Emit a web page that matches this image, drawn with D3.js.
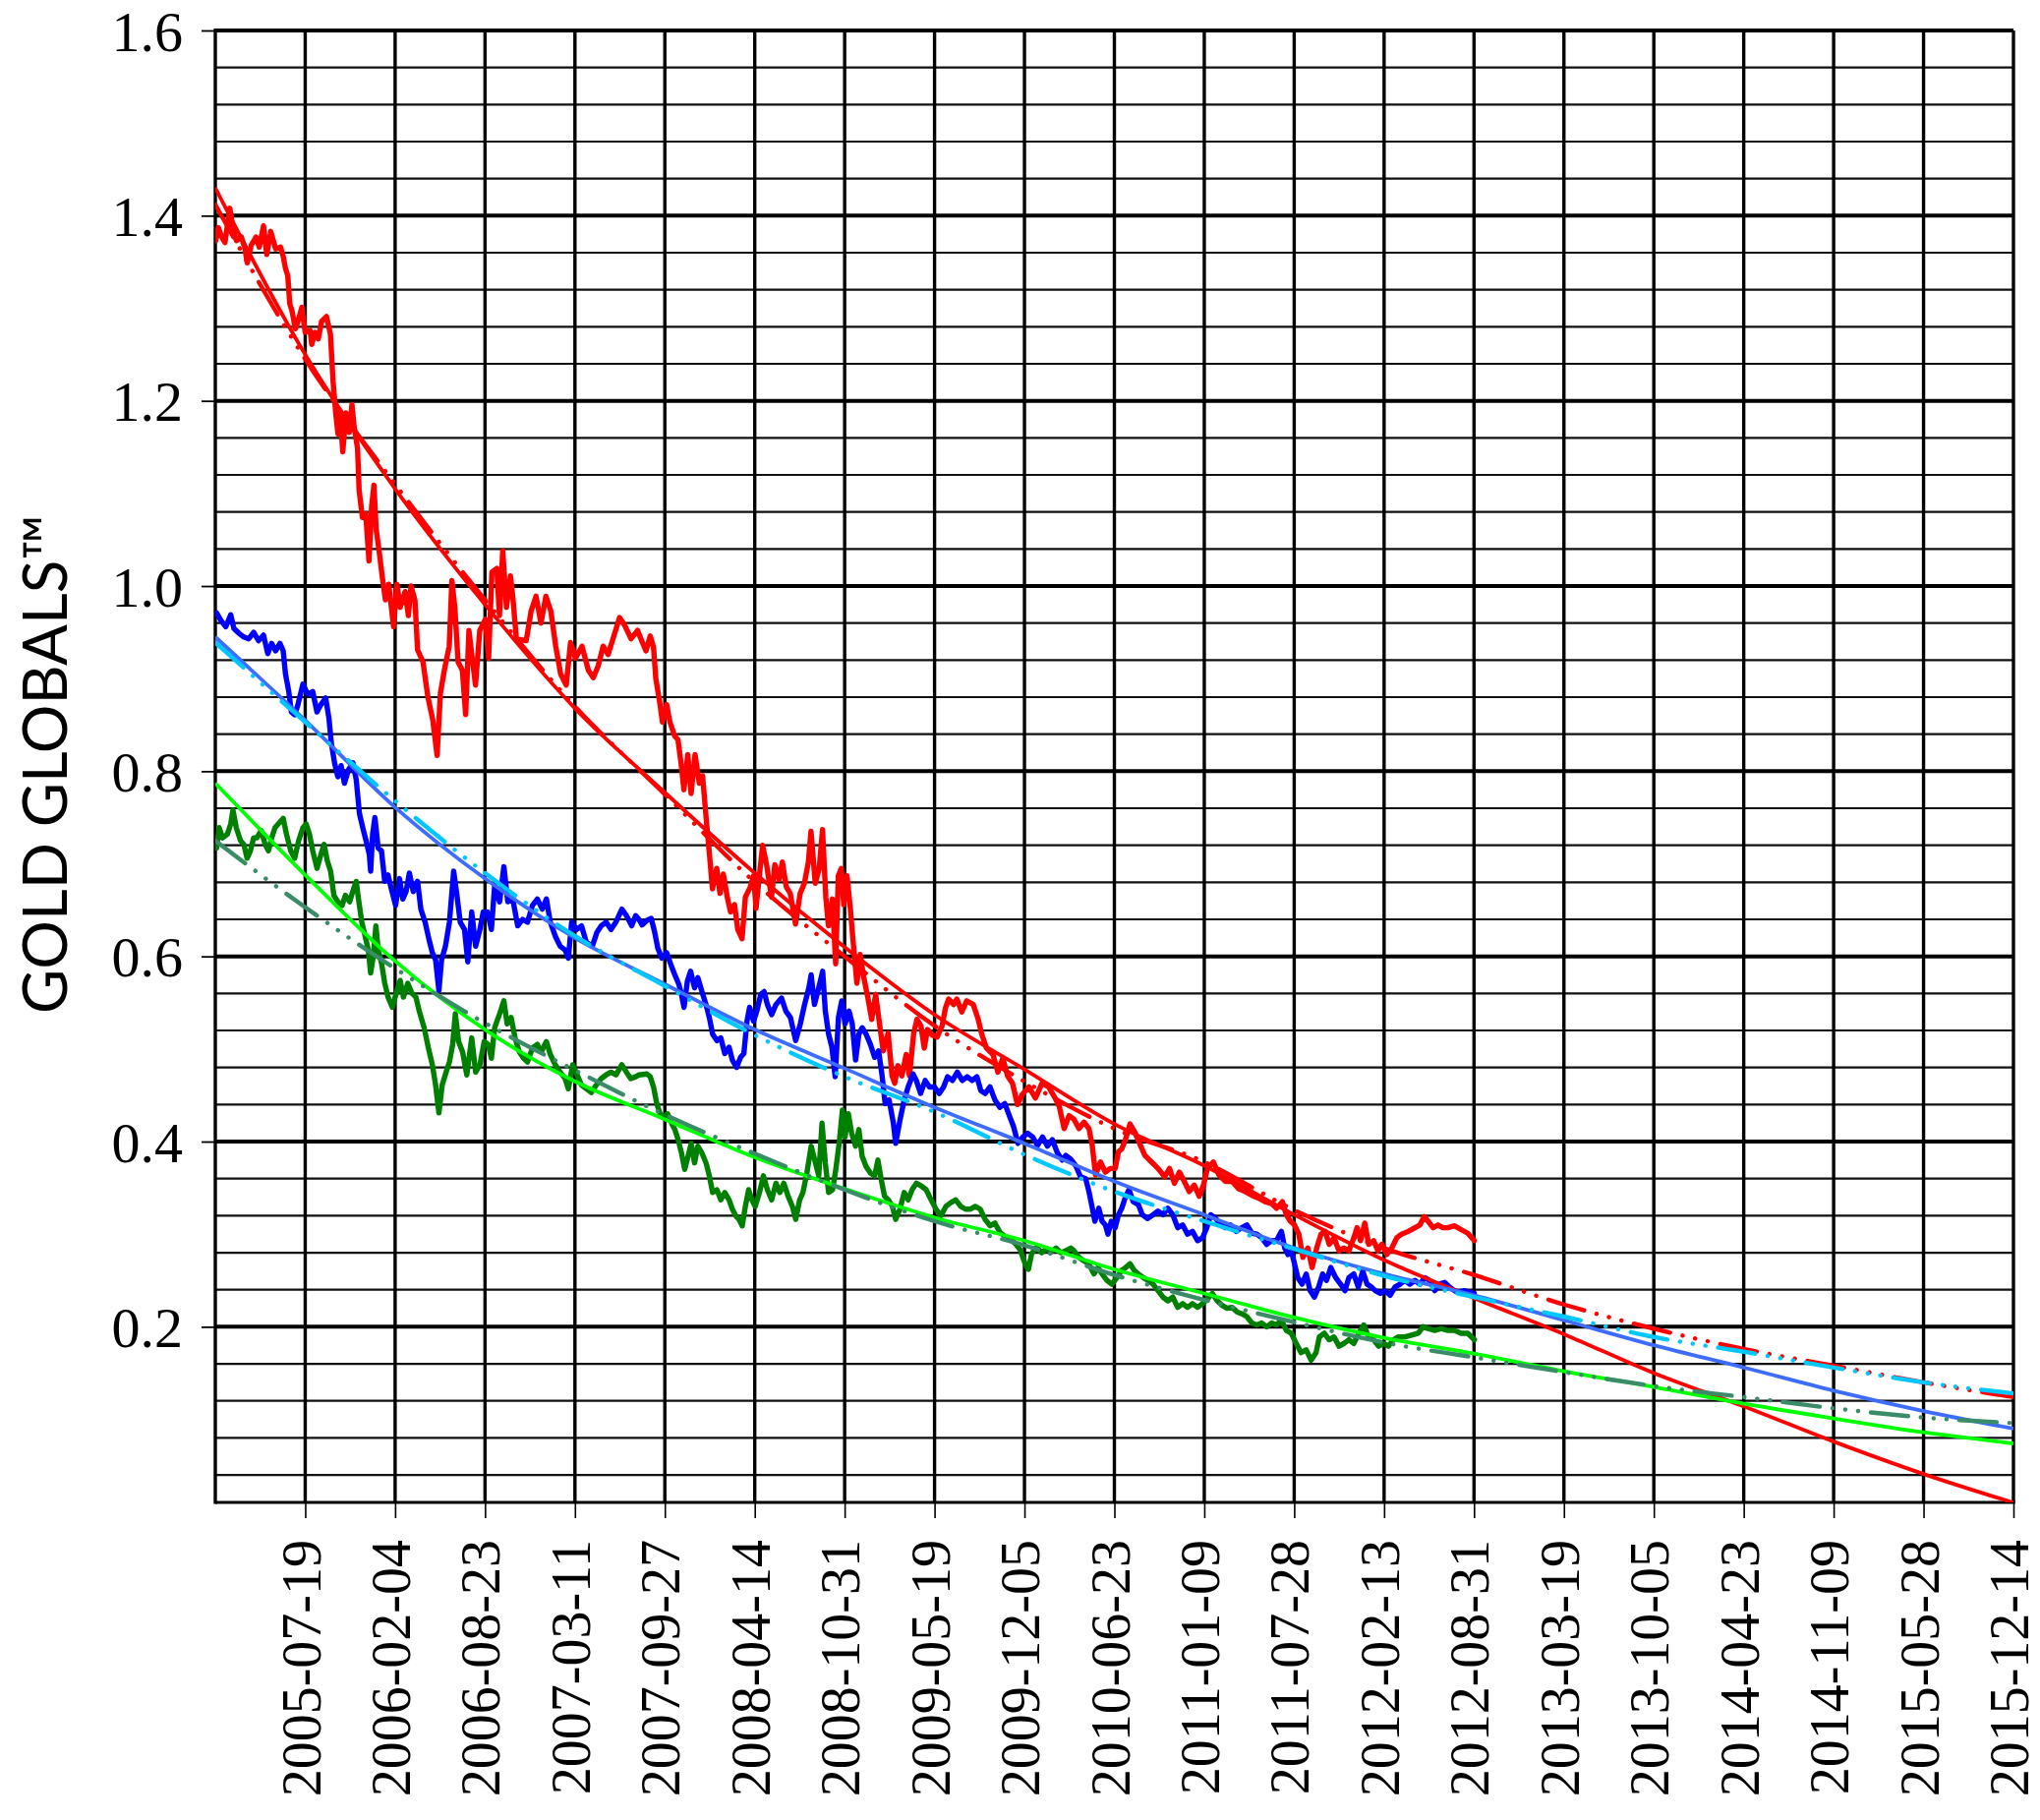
<!DOCTYPE html>
<html>
<head>
<meta charset="utf-8">
<script src="https://cdn.jsdelivr.net/npm/d3@7"></script>
<style>
  html, body { margin: 0; padding: 0; background: #fff; }
  svg { display: block; }
</style>
</head>
<body>
<div id="chart"></div>
<script>
// ratio chart, three noisy series plus two fitted trends each

// x tick labels (every 200 days)
var xTickLabels = ["2005-07-19","2006-02-04","2006-08-23","2007-03-11","2007-09-27","2008-04-14",
  "2008-10-31","2009-05-19","2009-12-05","2010-06-23","2011-01-09","2011-07-28","2012-02-13",
  "2012-08-31","2013-03-19","2013-10-05","2014-04-23","2014-11-09","2015-05-28","2015-12-14"];
var xStart = "2004-12-31";
var yTickValues = [0.2, 0.4, 0.6, 0.8, 1.0, 1.2, 1.4, 1.6];
var yMin = 0.0103, yMax = 1.6;

// fitted curves, read at the start and at each x tick
var fitDates = ["2004-12-31","2005-07-19","2006-02-04","2006-08-23","2007-03-11","2007-09-27","2008-04-14",
  "2008-10-31","2009-05-19","2009-12-05","2010-06-23","2011-01-09","2011-07-28","2012-02-13",
  "2012-08-31","2013-03-19","2013-10-05","2014-04-23","2014-11-09","2015-05-28","2015-12-14"];
var redFit    = [1.430,1.250,1.105,0.980,0.868,0.777,0.690,0.610,0.537,0.478,0.419,0.374,0.321,0.272,0.231,0.192,0.150,0.114,0.076,0.041,0.010];
var redTrend  = [1.412,1.245,1.110,0.985,0.870,0.775,0.680,0.600,0.525,0.465,0.414,0.378,0.326,0.285,0.256,0.224,0.198,0.176,0.158,0.140,0.124];
var blueFit   = [0.945,0.855,0.761,0.684,0.620,0.570,0.521,0.479,0.437,0.398,0.357,0.321,0.285,0.257,0.234,0.207,0.180,0.156,0.131,0.109,0.090];
var blueTrend = [0.939,0.853,0.768,0.690,0.622,0.568,0.515,0.470,0.432,0.386,0.346,0.314,0.284,0.255,0.232,0.211,0.189,0.173,0.156,0.140,0.128];
var greenFit  = [0.787,0.688,0.595,0.521,0.465,0.424,0.383,0.349,0.318,0.293,0.262,0.236,0.210,0.188,0.171,0.152,0.135,0.117,0.101,0.086,0.074];
var greenTrend= [0.725,0.653,0.587,0.528,0.477,0.429,0.387,0.348,0.314,0.288,0.256,0.229,0.205,0.183,0.167,0.151,0.136,0.124,0.112,0.102,0.096];

// noisy series: [decimal year, value]
var redSeries = [[2005.000,1.373],[2005.016,1.387],[2005.036,1.377],[2005.056,1.371],[2005.086,1.408],[2005.106,1.385],[2005.126,1.373],[2005.156,1.377],[2005.176,1.366],[2005.192,1.349],[2005.216,1.368],[2005.246,1.377],[2005.265,1.366],[2005.291,1.389],[2005.311,1.358],[2005.335,1.383],[2005.365,1.364],[2005.395,1.366],[2005.411,1.356],[2005.425,1.343],[2005.439,1.335],[2005.451,1.305],[2005.465,1.297],[2005.485,1.278],[2005.505,1.288],[2005.525,1.301],[2005.545,1.274],[2005.575,1.276],[2005.585,1.261],[2005.605,1.274],[2005.625,1.267],[2005.645,1.286],[2005.675,1.291],[2005.699,1.272],[2005.715,1.221],[2005.731,1.187],[2005.745,1.164],[2005.758,1.187],[2005.774,1.145],[2005.794,1.187],[2005.814,1.166],[2005.830,1.196],[2005.844,1.171],[2005.864,1.149],[2005.874,1.103],[2005.894,1.074],[2005.914,1.078],[2005.934,1.027],[2005.950,1.086],[2005.964,1.109],[2005.978,1.061],[2005.994,1.040],[2006.014,1.011],[2006.034,0.985],[2006.054,1.002],[2006.084,0.956],[2006.104,1.002],[2006.124,0.977],[2006.154,0.994],[2006.174,0.968],[2006.190,1.000],[2006.214,0.985],[2006.230,0.931],[2006.263,0.918],[2006.293,0.880],[2006.323,0.855],[2006.349,0.817],[2006.369,0.884],[2006.393,0.909],[2006.423,0.935],[2006.439,1.006],[2006.457,0.977],[2006.477,0.918],[2006.503,0.909],[2006.523,0.861],[2006.543,0.952],[2006.563,0.922],[2006.583,0.893],[2006.609,0.952],[2006.643,0.964],[2006.663,0.922],[2006.683,1.015],[2006.713,1.019],[2006.729,0.968],[2006.749,1.038],[2006.772,0.977],[2006.796,1.011],[2006.812,0.985],[2006.832,0.943],[2006.892,0.941],[2006.922,0.973],[2006.952,0.989],[2006.982,0.960],[2007.012,0.989],[2007.042,0.973],[2007.072,0.935],[2007.102,0.905],[2007.136,0.893],[2007.162,0.939],[2007.192,0.922],[2007.232,0.935],[2007.271,0.909],[2007.301,0.901],[2007.331,0.914],[2007.361,0.935],[2007.391,0.926],[2007.421,0.943],[2007.461,0.966],[2007.491,0.958],[2007.531,0.943],[2007.571,0.952],
  [2007.598,0.940],[2007.622,0.930],[2007.648,0.946],[2007.668,0.934],[2007.682,0.900],[2007.708,0.872],[2007.722,0.853],[2007.748,0.872],[2007.768,0.853],[2007.797,0.838],[2007.817,0.834],[2007.837,0.807],[2007.853,0.780],[2007.877,0.818],[2007.897,0.776],[2007.921,0.818],[2007.947,0.787],[2007.967,0.795],[2007.987,0.753],[2008.007,0.714],[2008.027,0.673],[2008.053,0.695],[2008.073,0.668],[2008.093,0.689],[2008.117,0.664],[2008.137,0.648],[2008.161,0.656],[2008.181,0.629],[2008.207,0.619],[2008.227,0.664],[2008.257,0.675],[2008.277,0.687],[2008.292,0.652],[2008.312,0.687],[2008.332,0.720],[2008.356,0.699],[2008.386,0.664],[2008.406,0.699],[2008.432,0.683],[2008.452,0.702],[2008.476,0.675],[2008.500,0.668],[2008.532,0.635],[2008.560,0.668],[2008.586,0.679],[2008.610,0.702],[2008.626,0.735],[2008.652,0.679],[2008.676,0.695],[2008.696,0.737],[2008.716,0.664],[2008.732,0.633],[2008.756,0.662],[2008.776,0.592],[2008.792,0.687],[2008.810,0.695],[2008.825,0.656],[2008.845,0.687],[2008.865,0.652],[2008.885,0.610],[2008.905,0.571],[2008.925,0.602],[2008.945,0.579],[2008.971,0.556],[2008.995,0.532],[2009.019,0.559],[2009.039,0.532],[2009.065,0.498],[2009.095,0.517],[2009.119,0.471],[2009.135,0.463],[2009.155,0.482],[2009.179,0.471],[2009.205,0.494],[2009.225,0.471],[2009.251,0.517],[2009.271,0.532],[2009.295,0.525],[2009.315,0.501],[2009.335,0.521],[2009.364,0.515],[2009.394,0.513],[2009.424,0.525],[2009.444,0.544],[2009.464,0.554],[2009.494,0.548],[2009.514,0.554],[2009.544,0.540],[2009.574,0.552],[2009.614,0.548],[2009.644,0.532],[2009.664,0.517],[2009.694,0.501],[2009.734,0.494],[2009.764,0.475],[2009.794,0.490],[2009.823,0.471],[2009.853,0.463],[2009.883,0.440],[2009.913,0.451],[2009.953,0.459],[2009.993,0.447],[2010.033,0.463],[2010.073,0.459],[2010.113,0.447],
  [2010.138,0.438],[2010.168,0.414],[2010.198,0.428],[2010.228,0.424],[2010.258,0.414],[2010.289,0.421],[2010.319,0.414],[2010.339,0.396],[2010.359,0.364],[2010.389,0.378],[2010.419,0.367],[2010.449,0.371],[2010.479,0.371],[2010.499,0.389],[2010.519,0.392],[2010.543,0.403],[2010.569,0.419],[2010.599,0.410],[2010.630,0.397],[2010.660,0.385],[2010.700,0.378],[2010.740,0.371],[2010.780,0.362],[2010.810,0.371],[2010.840,0.355],[2010.870,0.367],[2010.900,0.357],[2010.930,0.346],[2010.961,0.353],[2010.991,0.341],[2011.017,0.353],[2011.041,0.371],[2011.077,0.378],[2011.111,0.364],[2011.151,0.357],[2011.191,0.357],[2011.231,0.349],[2011.271,0.346],[2011.312,0.342],[2011.352,0.339],[2011.392,0.335],[2011.432,0.333],[2011.462,0.328],[2011.498,0.335],[2011.522,0.321],[2011.546,0.314],[2011.572,0.310],[2011.598,0.300],[2011.623,0.275],[2011.653,0.285],[2011.679,0.264],[2011.707,0.285],[2011.733,0.300],[2011.759,0.303],[2011.783,0.289],[2011.813,0.296],[2011.843,0.282],[2011.873,0.285],[2011.903,0.282],[2011.933,0.296],[2011.953,0.307],[2011.974,0.293],[2012.000,0.312],[2012.024,0.289],[2012.054,0.293],[2012.080,0.282],[2012.104,0.289],[2012.134,0.278],[2012.164,0.285],[2012.194,0.296],[2012.224,0.300],[2012.264,0.303],[2012.305,0.307],[2012.335,0.310],[2012.361,0.319],[2012.385,0.314],[2012.415,0.307],[2012.445,0.310],[2012.475,0.307],[2012.505,0.307],[2012.545,0.309],[2012.585,0.305],[2012.626,0.301],[2012.666,0.293]];

var blueSeries = [[2005.005,0.971],[2005.031,0.963],[2005.061,0.956],[2005.091,0.969],[2005.111,0.954],[2005.141,0.949],[2005.171,0.945],[2005.201,0.943],[2005.231,0.950],[2005.261,0.941],[2005.291,0.947],[2005.317,0.927],[2005.341,0.938],[2005.365,0.930],[2005.391,0.938],[2005.411,0.930],[2005.425,0.905],[2005.445,0.886],[2005.461,0.864],[2005.481,0.861],[2005.501,0.872],[2005.531,0.894],[2005.561,0.883],[2005.591,0.886],[2005.617,0.864],[2005.641,0.872],[2005.670,0.879],[2005.690,0.857],[2005.704,0.831],[2005.724,0.809],[2005.744,0.794],[2005.764,0.806],[2005.784,0.787],[2005.810,0.802],[2005.836,0.809],[2005.856,0.791],[2005.876,0.754],[2005.896,0.739],[2005.916,0.725],[2005.936,0.710],[2005.944,0.692],[2005.956,0.732],[2005.970,0.750],[2005.990,0.717],[2006.010,0.714],[2006.030,0.681],[2006.050,0.688],[2006.070,0.673],[2006.096,0.655],[2006.120,0.684],[2006.140,0.662],[2006.160,0.670],[2006.180,0.690],[2006.204,0.670],[2006.230,0.681],[2006.250,0.651],[2006.276,0.637],[2006.300,0.618],[2006.320,0.604],[2006.340,0.596],[2006.360,0.563],[2006.376,0.596],[2006.400,0.611],[2006.424,0.637],[2006.450,0.692],[2006.470,0.666],[2006.490,0.637],[2006.516,0.629],[2006.536,0.594],[2006.560,0.648],[2006.584,0.611],[2006.610,0.629],[2006.630,0.648],[2006.656,0.648],[2006.680,0.629],[2006.700,0.677],[2006.730,0.659],[2006.756,0.697],[2006.780,0.659],[2006.810,0.662],[2006.840,0.633],[2006.870,0.640],[2006.900,0.637],[2006.930,0.655],[2006.960,0.662],[2006.990,0.651],[2007.015,0.662],[2007.039,0.637],[2007.069,0.622],[2007.099,0.611],[2007.129,0.607],[2007.149,0.598],[2007.169,0.637],[2007.199,0.629],[2007.229,0.633],[2007.259,0.615],[2007.295,0.611],[2007.323,0.626],[2007.349,0.633],[2007.379,0.637],[2007.409,0.629],[2007.439,0.637],[2007.475,0.651],[2007.503,0.644],[2007.535,0.633],[2007.559,0.644],[2007.579,0.640],
  [2007.598,0.634],[2007.628,0.639],[2007.654,0.641],[2007.674,0.627],[2007.694,0.609],[2007.718,0.598],[2007.748,0.604],[2007.774,0.591],[2007.798,0.580],[2007.822,0.570],[2007.838,0.559],[2007.854,0.545],[2007.874,0.573],[2007.894,0.584],[2007.918,0.566],[2007.938,0.577],[2007.968,0.559],[2007.988,0.548],[2008.008,0.534],[2008.028,0.516],[2008.054,0.509],[2008.078,0.512],[2008.102,0.495],[2008.128,0.502],[2008.148,0.488],[2008.174,0.480],[2008.198,0.491],[2008.218,0.495],[2008.237,0.530],[2008.253,0.545],[2008.277,0.530],[2008.297,0.541],[2008.321,0.559],[2008.341,0.562],[2008.361,0.548],[2008.387,0.537],[2008.413,0.548],[2008.447,0.555],[2008.473,0.541],[2008.501,0.534],[2008.533,0.509],[2008.561,0.527],[2008.587,0.548],[2008.613,0.566],[2008.627,0.580],[2008.647,0.548],[2008.673,0.566],[2008.697,0.584],[2008.713,0.541],[2008.733,0.516],[2008.753,0.502],[2008.773,0.470],[2008.793,0.534],[2008.813,0.552],[2008.833,0.527],[2008.857,0.541],[2008.877,0.527],[2008.897,0.488],[2008.917,0.516],[2008.937,0.523],[2008.961,0.516],[2008.987,0.505],[2009.013,0.491],[2009.037,0.498],[2009.057,0.473],[2009.077,0.441],[2009.101,0.445],[2009.127,0.420],[2009.141,0.398],[2009.167,0.423],[2009.193,0.445],[2009.217,0.459],[2009.247,0.473],[2009.267,0.466],[2009.293,0.452],[2009.321,0.466],[2009.347,0.459],[2009.377,0.459],[2009.407,0.452],[2009.433,0.459],[2009.457,0.470],[2009.487,0.466],[2009.517,0.475],[2009.547,0.466],[2009.577,0.470],[2009.607,0.466],[2009.636,0.470],[2009.660,0.455],[2009.686,0.452],[2009.716,0.459],[2009.746,0.445],[2009.776,0.437],[2009.806,0.441],[2009.836,0.427],[2009.860,0.416],[2009.886,0.398],[2009.916,0.405],[2009.946,0.409],[2009.976,0.405],[2010.006,0.396],[2010.036,0.405],[2010.066,0.395],[2010.096,0.402],[2010.126,0.388],[2010.156,0.380],
  [2010.178,0.385],[2010.208,0.381],[2010.238,0.374],[2010.268,0.362],[2010.299,0.360],[2010.319,0.346],[2010.335,0.332],[2010.355,0.314],[2010.379,0.328],[2010.399,0.314],[2010.419,0.310],[2010.435,0.300],[2010.455,0.314],[2010.479,0.307],[2010.499,0.321],[2010.519,0.328],[2010.539,0.339],[2010.563,0.348],[2010.589,0.335],[2010.620,0.332],[2010.644,0.321],[2010.676,0.317],[2010.710,0.321],[2010.740,0.325],[2010.770,0.321],[2010.800,0.328],[2010.830,0.321],[2010.860,0.307],[2010.890,0.310],[2010.920,0.300],[2010.950,0.303],[2010.981,0.293],[2011.011,0.296],[2011.037,0.307],[2011.061,0.321],[2011.091,0.317],[2011.121,0.310],[2011.151,0.307],[2011.181,0.310],[2011.217,0.303],[2011.251,0.307],[2011.281,0.310],[2011.312,0.301],[2011.342,0.300],[2011.372,0.296],[2011.402,0.289],[2011.432,0.293],[2011.462,0.293],[2011.492,0.303],[2011.512,0.285],[2011.532,0.278],[2011.552,0.282],[2011.572,0.268],[2011.592,0.253],[2011.618,0.246],[2011.643,0.257],[2011.667,0.239],[2011.693,0.232],[2011.719,0.243],[2011.743,0.257],[2011.767,0.250],[2011.793,0.264],[2011.823,0.253],[2011.853,0.246],[2011.879,0.239],[2011.903,0.253],[2011.933,0.257],[2011.960,0.243],[2011.988,0.260],[2012.014,0.246],[2012.040,0.243],[2012.064,0.239],[2012.094,0.236],[2012.124,0.239],[2012.154,0.234],[2012.184,0.243],[2012.214,0.246],[2012.244,0.250],[2012.274,0.246],[2012.305,0.250],[2012.335,0.246],[2012.365,0.253],[2012.395,0.250],[2012.425,0.239],[2012.455,0.246],[2012.485,0.248],[2012.515,0.243],[2012.545,0.239],[2012.575,0.237],[2012.605,0.239],[2012.636,0.237],[2012.666,0.236]];

var greenSeries = [[2005.005,0.717],[2005.021,0.739],[2005.041,0.728],[2005.071,0.732],[2005.091,0.743],[2005.105,0.758],[2005.125,0.739],[2005.151,0.725],[2005.171,0.721],[2005.191,0.706],[2005.211,0.714],[2005.231,0.728],[2005.251,0.728],[2005.277,0.736],[2005.301,0.721],[2005.321,0.714],[2005.341,0.728],[2005.361,0.739],[2005.381,0.743],[2005.411,0.749],[2005.431,0.732],[2005.457,0.714],[2005.481,0.706],[2005.505,0.725],[2005.531,0.739],[2005.551,0.743],[2005.571,0.732],[2005.591,0.714],[2005.617,0.695],[2005.641,0.710],[2005.660,0.721],[2005.680,0.703],[2005.700,0.692],[2005.720,0.666],[2005.744,0.659],[2005.770,0.655],[2005.790,0.666],[2005.816,0.659],[2005.840,0.673],[2005.856,0.681],[2005.870,0.662],[2005.890,0.637],[2005.910,0.622],[2005.930,0.607],[2005.944,0.582],[2005.960,0.600],[2005.976,0.633],[2005.990,0.607],[2006.010,0.593],[2006.030,0.571],[2006.050,0.556],[2006.076,0.545],[2006.100,0.560],[2006.124,0.574],[2006.144,0.556],[2006.170,0.571],[2006.196,0.560],[2006.220,0.556],[2006.240,0.541],[2006.270,0.523],[2006.296,0.501],[2006.320,0.483],[2006.340,0.461],[2006.360,0.431],[2006.380,0.461],[2006.404,0.475],[2006.424,0.486],[2006.444,0.505],[2006.460,0.538],[2006.480,0.508],[2006.504,0.497],[2006.530,0.472],[2006.560,0.512],[2006.584,0.475],[2006.610,0.483],[2006.636,0.508],[2006.660,0.505],[2006.680,0.490],[2006.700,0.523],[2006.730,0.538],[2006.756,0.552],[2006.776,0.527],[2006.800,0.534],[2006.824,0.512],[2006.850,0.497],[2006.876,0.490],[2006.900,0.486],[2006.930,0.501],[2006.960,0.505],[2006.984,0.497],[2007.015,0.508],[2007.039,0.494],[2007.069,0.483],[2007.099,0.475],[2007.129,0.468],[2007.149,0.457],[2007.175,0.483],[2007.203,0.472],[2007.229,0.461],[2007.259,0.457],[2007.289,0.453],[2007.319,0.461],[2007.349,0.468],[2007.379,0.472],[2007.409,0.475],[2007.439,0.472],[2007.475,0.483],[2007.503,0.475],[2007.529,0.468],[2007.559,0.470],[2007.579,0.472],
  [2007.628,0.473],[2007.648,0.470],[2007.668,0.459],[2007.688,0.441],[2007.708,0.430],[2007.728,0.427],[2007.754,0.430],[2007.778,0.420],[2007.798,0.413],[2007.818,0.402],[2007.838,0.388],[2007.858,0.370],[2007.878,0.384],[2007.898,0.398],[2007.918,0.377],[2007.938,0.395],[2007.962,0.388],[2007.988,0.377],[2008.008,0.363],[2008.028,0.345],[2008.054,0.348],[2008.078,0.337],[2008.102,0.345],[2008.128,0.337],[2008.148,0.327],[2008.168,0.320],[2008.188,0.316],[2008.208,0.309],[2008.227,0.330],[2008.247,0.348],[2008.267,0.337],[2008.287,0.330],[2008.313,0.345],[2008.337,0.363],[2008.361,0.348],[2008.387,0.337],[2008.413,0.355],[2008.437,0.345],[2008.461,0.355],[2008.487,0.341],[2008.513,0.330],[2008.533,0.316],[2008.557,0.337],[2008.577,0.345],[2008.601,0.366],[2008.627,0.395],[2008.653,0.377],[2008.673,0.363],[2008.693,0.420],[2008.713,0.377],[2008.733,0.345],[2008.757,0.348],[2008.777,0.370],[2008.797,0.398],[2008.817,0.434],[2008.833,0.405],[2008.853,0.430],[2008.873,0.409],[2008.897,0.395],[2008.917,0.413],[2008.937,0.384],[2008.961,0.373],[2008.987,0.366],[2009.013,0.363],[2009.033,0.380],[2009.053,0.359],[2009.073,0.341],[2009.097,0.337],[2009.121,0.330],[2009.141,0.316],[2009.167,0.327],[2009.193,0.345],[2009.217,0.337],[2009.241,0.348],[2009.267,0.355],[2009.297,0.352],[2009.327,0.348],[2009.357,0.337],[2009.387,0.327],[2009.417,0.320],[2009.447,0.330],[2009.477,0.334],[2009.507,0.337],[2009.537,0.330],[2009.567,0.327],[2009.597,0.327],[2009.626,0.330],[2009.656,0.327],[2009.686,0.316],[2009.716,0.309],[2009.746,0.312],[2009.776,0.302],[2009.806,0.298],[2009.836,0.295],[2009.870,0.290],[2009.900,0.283],[2009.930,0.268],[2009.950,0.262],[2009.970,0.279],[2010.000,0.286],[2010.030,0.280],[2010.060,0.284],[2010.090,0.281],
  [2010.118,0.285],[2010.148,0.280],[2010.178,0.282],[2010.208,0.285],[2010.228,0.282],[2010.258,0.275],[2010.289,0.271],[2010.319,0.268],[2010.349,0.257],[2010.375,0.264],[2010.399,0.257],[2010.429,0.250],[2010.459,0.246],[2010.489,0.253],[2010.519,0.261],[2010.543,0.264],[2010.569,0.268],[2010.595,0.261],[2010.620,0.257],[2010.650,0.253],[2010.680,0.250],[2010.710,0.246],[2010.740,0.239],[2010.770,0.232],[2010.800,0.228],[2010.830,0.232],[2010.860,0.221],[2010.890,0.225],[2010.920,0.221],[2010.950,0.225],[2010.981,0.221],[2011.011,0.225],[2011.041,0.230],[2011.071,0.236],[2011.101,0.228],[2011.131,0.223],[2011.161,0.220],[2011.191,0.221],[2011.221,0.216],[2011.251,0.214],[2011.281,0.211],[2011.312,0.204],[2011.342,0.202],[2011.372,0.204],[2011.402,0.200],[2011.432,0.204],[2011.462,0.202],[2011.492,0.207],[2011.522,0.196],[2011.552,0.193],[2011.582,0.182],[2011.612,0.172],[2011.643,0.175],[2011.673,0.164],[2011.703,0.172],[2011.723,0.189],[2011.753,0.193],[2011.783,0.186],[2011.813,0.189],[2011.843,0.179],[2011.873,0.182],[2011.903,0.186],[2011.933,0.182],[2011.964,0.193],[2011.994,0.202],[2012.024,0.189],[2012.054,0.186],[2012.084,0.179],[2012.114,0.182],[2012.144,0.179],[2012.174,0.186],[2012.204,0.189],[2012.244,0.189],[2012.285,0.191],[2012.325,0.193],[2012.355,0.200],[2012.385,0.198],[2012.425,0.196],[2012.465,0.198],[2012.505,0.196],[2012.545,0.196],[2012.585,0.193],[2012.626,0.193],[2012.666,0.186]];

var W = 2075, H = 1851;
var plotLeft = 219, plotRight = 2048, plotTop = 31, plotBottom = 1528;
var DASH = "38,13,0.1,13,0.1,13,0.1,13";

var parseDate = d3.utcParse("%Y-%m-%d");

/* decimal year -> Date (UTC) */
function yearToDate(v) {
	var yr = Math.floor(v);
	var s = Date.UTC(yr, 0, 1), e = Date.UTC(yr + 1, 0, 1);
	return new Date(s + (v - yr) * (e - s));
}

var x = d3.scaleUtc()
	.domain([parseDate(xStart), parseDate(xTickLabels[xTickLabels.length - 1])])
	.range([plotLeft, plotRight]);
var y = d3.scaleLinear().domain([yMin, yMax]).range([plotBottom, plotTop]);

var svg = d3.select("#chart").append("svg")
	.attr("width", W)
	.attr("height", H);

svg.append("rect").attr("width", W).attr("height", H).attr("fill", "#fff");

svg.append("clipPath").attr("id", "plotClip")
	.append("rect")
	.attr("x", plotLeft).attr("y", plotTop - 2)
	.attr("width", plotRight - plotLeft).attr("height", plotBottom - plotTop + 2);

var tickDates = xTickLabels.map(parseDate);

// grid: minor horizontal lines every 0.04
var grid = svg.append("g").attr("class", "grid");
grid.selectAll(".minor")
	.data(d3.range(0.04, 1.6, 0.04).filter(function(v) { return Math.abs(v * 5 - Math.round(v * 5)) > 0.01; }))
	.enter().append("line")
	.attr("x1", plotLeft).attr("x2", plotRight)
	.attr("y1", function(d) { return y(d); }).attr("y2", function(d) { return y(d); })
	.attr("stroke", "#111").attr("stroke-width", 2.2);

grid.selectAll(".vline")
	.data(tickDates)
	.enter().append("line")
	.attr("x1", function(d) { return x(d); }).attr("x2", function(d) { return x(d); })
	.attr("y1", plotTop).attr("y2", plotBottom)
	.attr("stroke", "#000").attr("stroke-width", 3.4);

grid.selectAll(".major")
	.data(yTickValues)
	.enter().append("line")
	.attr("x1", plotLeft).attr("x2", plotRight)
	.attr("y1", function(d) { return y(d); }).attr("y2", function(d) { return y(d); })
	.attr("stroke", "#000").attr("stroke-width", 4);

// frame
grid.append("line")
	.attr("x1", plotLeft).attr("x2", plotLeft).attr("y1", plotTop - 2).attr("y2", plotBottom + 1.4)
	.attr("stroke", "#000").attr("stroke-width", 3.4);
grid.append("line")
	.attr("x1", plotLeft).attr("x2", plotRight + 1.7).attr("y1", plotBottom).attr("y2", plotBottom)
	.attr("stroke", "#000").attr("stroke-width", 2.8);

// axes
var xAxis = svg.append("g")
	.attr("transform", "translate(0," + plotBottom + ")")
	.call(d3.axisBottom(x).tickValues(tickDates).tickFormat(d3.utcFormat("%Y-%m-%d")).tickSize(16).tickSizeOuter(0));
xAxis.select(".domain").remove();
xAxis.selectAll(".tick line").attr("stroke", "#000").attr("stroke-width", 1.6);
xAxis.selectAll(".tick text")
	.attr("font-family", "'Liberation Serif', 'Times New Roman', serif")
	.attr("font-size", 56)
	.attr("fill", "#000")
	.attr("text-anchor", "end")
	.attr("transform", "translate(0,38) rotate(-90)")
	.attr("x", 0).attr("y", 0)
	.attr("dy", "0.26em");

var yAxis = svg.append("g")
	.attr("transform", "translate(" + plotLeft + ",0)")
	.call(d3.axisLeft(y).tickValues(yTickValues).tickFormat(d3.format(".1f")).tickSize(14).tickSizeOuter(0));
yAxis.select(".domain").remove();
yAxis.selectAll(".tick line").attr("stroke", "#000").attr("stroke-width", 1.8);
yAxis.selectAll(".tick text")
	.attr("font-family", "'Liberation Serif', 'Times New Roman', serif")
	.attr("font-size", 58)
	.attr("fill", "#000")
	.attr("x", -33)
	.attr("dy", "0.35em");

// axis title
svg.append("text")
	.attr("transform", "translate(68,1031) rotate(-90)")
	.attr("text-anchor", "start")
	.attr("font-family", "Lato, 'Open Sans', sans-serif")
	.attr("font-size", 62)
	.attr("fill", "#000")
	.text("GOLD GLOBALS\u2122");

// series
var plot = svg.append("g").attr("clip-path", "url(#plotClip)");

var seriesLine = d3.line()
	.x(function(d) { return x(yearToDate(d[0])); })
	.y(function(d) { return y(d[1]); });

var fitLine = d3.line()
	.curve(d3.curveMonotoneX)
	.x(function(d) { return x(d.date); })
	.y(function(d) { return y(d.value); });

function fitData(values) {
	return fitDates.map(function(s, i) { return {date: parseDate(s), value: values[i]}; });
}

[[redSeries, "#ff0000"], [blueSeries, "#0000ff"], [greenSeries, "#008000"]].forEach(function(s) {
	plot.append("path")
		.datum(s[0])
		.attr("d", seriesLine)
		.attr("fill", "none")
		.attr("stroke", s[1])
		.attr("stroke-width", 5.4)
		.attr("stroke-linejoin", "round")
		.attr("stroke-linecap", "round");
});

// fitted curves (solid)
[[redFit, "#ff0000"], [blueFit, "#3d6cff"], [greenFit, "#00ff00"]].forEach(function(s) {
	plot.append("path")
		.datum(fitData(s[0]))
		.attr("d", fitLine)
		.attr("fill", "none")
		.attr("stroke", s[1])
		.attr("stroke-width", 3.8);
});

// trend curves (dash dot dot)
[[redTrend, "#ff0000"], [blueTrend, "#00c8ff"], [greenTrend, "#3a8c69"]].forEach(function(s) {
	plot.append("path")
		.datum(fitData(s[0]))
		.attr("d", fitLine)
		.attr("fill", "none")
		.attr("stroke", s[1])
		.attr("stroke-width", 4.4)
		.attr("stroke-linecap", "round")
		.attr("stroke-dasharray", DASH);
});
</script>
</body>
</html>
